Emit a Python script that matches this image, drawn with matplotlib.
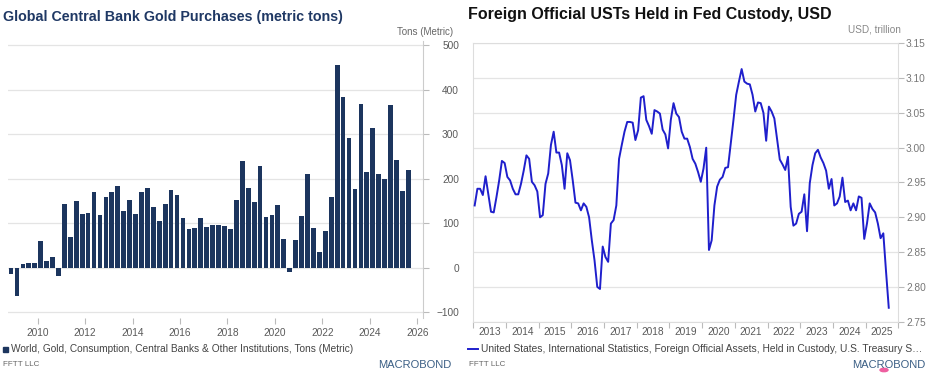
import numpy as np
import matplotlib.pyplot as plt
from matplotlib.patches import Rectangle, Circle
from matplotlib.lines import Line2D

plt.rcParams['font.family'] = ['Liberation Sans', 'DejaVu Sans']

## quarterly central bank gold purchases, 2008Q4 .. 2025Q3 (tons)
gold_start = 2008.75
gold_tons = [-13, -63, 8, 10, 10, 60, 14, 23, -19, 144, 70, 150, 121, 123, 171, 119,
             159, 171, 183, 128, 151, 120, 171, 178, 136, 104, 142, 174, 164, 111, 86, 89,
             111, 92, 97, 97, 94, 86, 153, 240, 179, 147, 228, 114, 119, 141, 64, -10,
             62, 116, 210, 90, 35, 83, 159, 456, 383, 291, 177, 368, 216, 313, 211, 199,
             366, 242, 172, 219]
gold_yticks = [-100, 0, 100, 200, 300, 400, 500]
gold_xticks = [2010, 2012, 2014, 2016, 2018, 2020, 2022, 2024, 2026]

## monthly foreign official USTs held in custody, Jan 2013 .. Sep 2025 (USD trillion)
ust_start = 2013.0
ust_vals = [2.917, 2.941, 2.941, 2.932, 2.959, 2.934, 2.908, 2.907, 2.929, 2.953, 2.981, 2.978,
            2.958, 2.953, 2.941, 2.933, 2.933, 2.948, 2.967, 2.989, 2.984, 2.951, 2.946, 2.937,
            2.900, 2.903, 2.948, 2.963, 3.004, 3.023, 2.993, 2.993, 2.975, 2.941, 2.992, 2.982,
            2.953, 2.921, 2.920, 2.910, 2.920, 2.915, 2.900, 2.867, 2.838, 2.800, 2.797, 2.858,
            2.843, 2.836, 2.891, 2.896, 2.917, 2.984, 3.004, 3.023, 3.037, 3.037, 3.036, 3.011,
            3.025, 3.072, 3.074, 3.040, 3.031, 3.020, 3.054, 3.052, 3.049, 3.026, 3.019, 2.999,
            3.040, 3.064, 3.049, 3.044, 3.023, 3.013, 3.013, 3.001, 2.984, 2.977, 2.965, 2.951,
            2.970, 3.000, 2.853, 2.867, 2.917, 2.944, 2.954, 2.958, 2.971, 2.972, 3.006, 3.040,
            3.076, 3.095, 3.113, 3.095, 3.092, 3.091, 3.076, 3.052, 3.065, 3.064, 3.050, 3.010,
            3.059, 3.052, 3.042, 3.013, 2.983, 2.976, 2.968, 2.987, 2.915, 2.888, 2.891, 2.905,
            2.908, 2.933, 2.880, 2.949, 2.975, 2.992, 2.997, 2.986, 2.978, 2.967, 2.941, 2.955,
            2.917, 2.920, 2.930, 2.957, 2.922, 2.924, 2.910, 2.920, 2.910, 2.930, 2.928, 2.869,
            2.891, 2.920, 2.912, 2.907, 2.891, 2.870, 2.877, 2.822, 2.770]
ust_yticks = [2.75, 2.80, 2.85, 2.90, 2.95, 3.00, 3.05, 3.10, 3.15]
ust_years = list(range(2013, 2026))

W, H = 933, 389
NAVY = '#1c355e'
BLUE = '#1f1fcc'
GRID = '#e4e4e4'
TICKC = '#5a5a5a'


def rect(x0, y0, x1, y1):
    # pixel box (from top-left) -> figure fraction
    return [x0 / W, 1 - y1 / H, (x1 - x0) / W, (y1 - y0) / H]


def fx(px):
    return px / W


def fy(py):
    return 1 - py / H


fig = plt.figure(figsize=(W / 100, H / 100), dpi=100)

## ---- left: gold purchases ----
ax1 = fig.add_axes(rect(8, 41, 423, 318))
gx = gold_start + (np.arange(len(gold_tons)) + 0.5) / 4
ax1.bar(gx, gold_tons, width=0.2, color=NAVY, zorder=3)
ax1.set_xlim(2008.748, 2026.244)
ax1.set_ylim(-112.9, 509)
ax1.set_yticks(gold_yticks)
ax1.set_xticks(gold_xticks)
ax1.yaxis.tick_right()
ax1.grid(axis='y', color=GRID, lw=0.9, zorder=0)
for s in ['top', 'left', 'bottom']:
    ax1.spines[s].set_visible(False)
ax1.spines['right'].set_color('#cccccc')
ax1.tick_params(axis='y', length=4, color='#bbbbbb', labelcolor=TICKC, labelsize=7.3, pad=1)
ax1.tick_params(axis='x', length=4, color='#bbbbbb', labelcolor=TICKC, labelsize=7.3, pad=3)
for lab in ax1.get_yticklabels():
    lab.set_horizontalalignment('right')
    lab.set_x(1.0 + 29 / 415)

fig.text(fx(3), fy(17), 'Global Central Bank Gold Purchases (metric tons)', fontsize=10.3,
         fontweight='bold', color='#1f3864', va='center', ha='left')
fig.text(fx(453), fy(32), 'Tons (Metric)', fontsize=7, color='#666666', va='center', ha='right')

fig.patches.append(Rectangle((fx(3), fy(352)), 5 / W, 5 / H, transform=fig.transFigure,
                             color=NAVY, figure=fig))
fig.text(fx(11), fy(349), 'World, Gold, Consumption, Central Banks & Other Institutions, Tons (Metric)',
         fontsize=7.25, color='#444444', va='center', ha='left')
fig.text(fx(3), fy(365), 'FFTT LLC', fontsize=5.8, color='#666666', va='center', ha='left')
fig.text(fx(451), fy(365), 'MACROBOND', fontsize=8, color='#3b5f85', va='center', ha='right')

## ---- right: USTs in custody ----
ax2 = fig.add_axes(rect(473.3, 43.3, 898.3, 321.7))
ux = ust_start + (np.arange(len(ust_vals)) + 0.5) / 12
ax2.plot(ux, ust_vals, color=BLUE, lw=1.4, zorder=3)
ax2.set_xlim(2013, 2026)
ax2.set_ylim(2.75, 3.15)
ax2.set_yticks(ust_yticks)
ax2.set_yticklabels(['%.2f' % v for v in ust_yticks])
ax2.set_xticks(ust_years + [2026])
ax2.set_xticklabels([])
ax2.set_xticks([y + 0.5 for y in ust_years], minor=True)
ax2.set_xticklabels([str(y) for y in ust_years], minor=True)
ax2.yaxis.tick_right()
ax2.grid(axis='y', color=GRID, lw=0.9, zorder=0)
for s in ['top', 'left', 'bottom', 'right']:
    ax2.spines[s].set_color('#dddddd')
ax2.tick_params(axis='y', length=4, color='#bbbbbb', labelcolor='#777777', labelsize=7.3, pad=1.5)
ax2.tick_params(axis='x', which='major', length=4, color='#bbbbbb')
ax2.tick_params(axis='x', which='minor', length=0, labelcolor=TICKC, labelsize=7.3, pad=4)

fig.text(fx(468), fy(14), 'Foreign Official USTs Held in Fed Custody, USD', fontsize=11.5,
         fontweight='bold', color='#111111', va='center', ha='left')
fig.text(fx(901), fy(29.5), 'USD, trillion', fontsize=7.2, color='#888888', va='center', ha='right')

fig.lines.append(Line2D([fx(468), fx(478)], [fy(349), fy(349)], transform=fig.transFigure,
                        color=BLUE, lw=1.4, figure=fig))
fig.text(fx(481), fy(349),
         'United States, International Statistics, Foreign Official Assets, Held in Custody, U.S. Treasury S\u2026',
         fontsize=7.4, color='#444444', va='center', ha='left')
fig.text(fx(469), fy(365), 'FFTT LLC', fontsize=5.8, color='#666666', va='center', ha='left')
fig.text(fx(925), fy(365), 'MACROBOND', fontsize=8, color='#3b5f85', va='center', ha='right')
fig.patches.append(Circle((fx(884), fy(370)), 4 / W, transform=fig.transFigure,
                          color='#ee5fa0', figure=fig))

fig.savefig('out.png', dpi=100)
